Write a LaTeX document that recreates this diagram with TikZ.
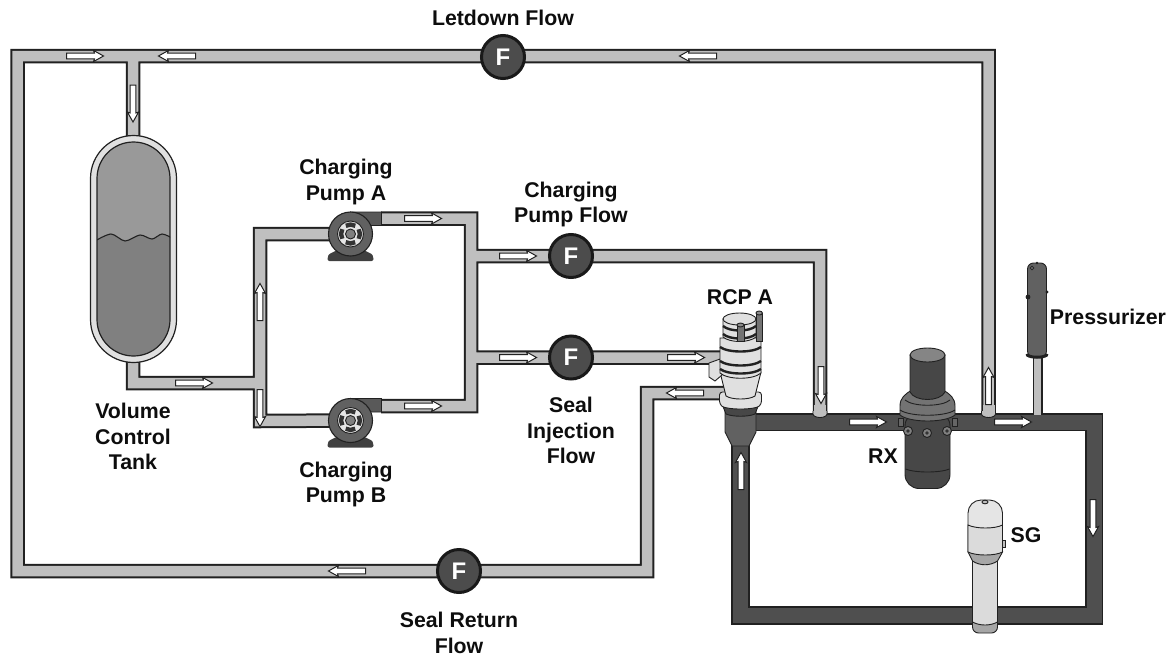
\documentclass[tikz,border=0pt]{standalone}
\usepackage{fontspec}
\setmainfont{Liberation Sans}
\usetikzlibrary{positioning,calc}
\definecolor{PipeGray}{gray}{0.75}
\definecolor{LoopGray}{gray}{0.31}
\definecolor{LineDark}{gray}{0.13}
\tikzset{
  meter/.style={circle,draw=black!90,fill=black!70,line width=3pt,minimum size=43pt,inner sep=0pt,text=white,font=\fontsize{24pt}{24pt}\bfseries},
  lab/.style={align=center,font=\fontsize{21.3pt}{25.5pt}\bfseries,inner sep=0pt,text=black!95},
  flow/.style={draw=LineDark,fill=white,line width=1pt,line join=miter},
  pipecase/.style={draw=LineDark,line width=14.5pt,line join=miter},
  pipefill/.style={draw=PipeGray,line width=10.5pt,line join=miter},
  loopcase/.style={draw=LineDark,line width=18.5pt,line join=miter},
  loopfill/.style={draw=LoopGray,line width=15pt,line join=miter},
  part/.style={draw=LineDark,line width=.9pt},
}
\begin{document}
\begin{tikzpicture}[x=1pt,y=-1pt]
\useasboundingbox (0,0) rectangle (1170,656);
% junctions
\coordinate (topL) at (17.5,56);
\coordinate (topR) at (988.5,56);
\coordinate (botL) at (17.5,571);
\coordinate (retA) at (647,571);
\coordinate (retB) at (647,393);
\coordinate (retC) at (725,393);
\coordinate (vctTee) at (133,56);
\coordinate (vctOut) at (133,383);
\coordinate (suctTee) at (260,383);
\coordinate (suctA) at (260,234);
\coordinate (suctB) at (260,421);
\coordinate (pumpA) at (350.5,234);
\coordinate (pumpB) at (350.5,420.5);
\coordinate (discA) at (471,218.5);
\coordinate (discB) at (471,406);
\coordinate (outA) at (381,218.5);
\coordinate (outB) at (381,406);
\coordinate (chgTee) at (471,256);
\coordinate (sealTee) at (471,357.5);
\coordinate (chgCor) at (820,256);
\coordinate (chgEnd) at (820,415);
\coordinate (sealEnd) at (725,357.5);
\coordinate (letEnd) at (988.5,415);
\coordinate (loopTL) at (740.5,422);
\coordinate (loopTR) at (1094,422);
\coordinate (loopBR) at (1094,615.5);
\coordinate (loopBL) at (740.5,615.5);
\coordinate (surgeTop) at (1037.5,355);
\coordinate (surgeEnd) at (1037.5,415);
\def\lightpipes{(letEnd)--(topR)--(topL)--(botL)--(retA)--(retB)--(retC) (vctTee)--(vctOut)--(suctTee) (pumpB)--(suctB)--(suctA)--(pumpA) (outA)--(discA)--(discB)--(outB) (chgTee)--(chgCor)--(chgEnd) (sealTee)--(sealEnd)}
% reactor coolant loop
\draw[loopcase] (loopTL)--(loopTR)--(loopBR)--(loopBL)--cycle;
\draw[loopfill] (loopTL)--(loopTR)--(loopBR)--(loopBL)--cycle;
% light pipes
\draw[pipecase] \lightpipes;
\draw[pipefill] \lightpipes;
\draw[part,fill=PipeGray] (813,411) -- (813,414) arc[start angle=180,end angle=360,x radius=7pt,y radius=3.5pt] -- (827,411);
\draw[draw=PipeGray,line width=12pt] (820,405)--(820,414);
\draw[part,fill=PipeGray] (981.5,411) -- (981.5,414) arc[start angle=180,end angle=360,x radius=7pt,y radius=3.5pt] -- (995.5,411);
\draw[draw=PipeGray,line width=12pt] (988.5,405)--(988.5,414);
% surge line
\draw[draw=LineDark,line width=10pt] (surgeTop)--(surgeEnd);
\draw[draw=PipeGray,line width=7pt] (surgeTop)--(surgeEnd);
% volume control tank
\draw[part,line width=1.2pt,fill=black!12,rounded corners=43pt] (90.5,135.5) rectangle (176.5,362.5);
\begin{scope}
\clip[rounded corners=36.5pt] (97,142) rectangle (170,356);
\fill[black!40] (97,142) rectangle (170,356);
\fill[black!50] plot[smooth] coordinates {(95,241) (111,234) (125,241) (140,235) (152,239) (162,234) (172,238)} -- (172,358) -- (95,358) -- cycle;
\draw[draw=LineDark,line width=1.1pt] plot[smooth] coordinates {(95,241) (111,234) (125,241) (140,235) (152,239) (162,234) (172,238)};
\end{scope}
\draw[part,line width=1.2pt,rounded corners=36.5pt] (97,142) rectangle (170,356);
% charging pumps
\foreach \p in {pumpA,pumpB} {
\begin{scope}[shift={(\p)}]
\fill[black!75,rounded corners=2pt] (-23,27) -- (-23,23) .. controls (-21,19) and (-14,17) .. (-10,14) -- (10,14) .. controls (14,17) and (21,19) .. (23,23) -- (23,27) -- cycle;
\draw[part,fill=black!65] (0,-22) -- (31,-22) -- (31,-8.5) -- (10,-8.5) -- cycle;
\draw[part,line width=1.1pt,fill=black!62] (0,0) circle[radius=22pt];
\draw[part,fill=black!10] (0,0) circle[radius=13pt];
\foreach \a in {0,90,180,270}
\draw[draw=black!80,line width=4.4pt,rotate=\a] (8.2,4.8) arc[start angle=-30,end angle=30,radius=9.5pt];
\draw[part,fill=black!50] (0,0) circle[radius=5pt];
\end{scope}
}
% reactor vessel
\draw[part,fill=black!72,rounded corners=14pt] (905,412) -- (905,488.5) -- (950,488.5) -- (950,412) -- cycle;
\draw[part] (905.5,469) .. controls (915,473) and (940,473) .. (949.5,469);
\draw[part,fill=black!55] (900,406) .. controls (900,398) and (905,394) .. (912,390) -- (943,390) .. controls (950,394) and (955,398) .. (955,406) -- (955,415) .. controls (945,423) and (910,423) .. (900,415) -- cycle;
\draw[part] (900,410) .. controls (910,417) and (945,417) .. (955,410);
\draw[part] (905,400) .. controls (913,407) and (942,407) .. (950,400);
\draw[part,fill=black!72] (910,355) -- (910,392) .. controls (915,402) and (940,402) .. (945,392) -- (945,355) -- cycle;
\draw[part,fill=black!48] (927.5,355) ellipse[x radius=17.5pt,y radius=7pt];
\foreach \nx/\ny in {908/431,927/433,947/431} {
\draw[part,fill=black!50] (\nx,\ny) circle[radius=4.5pt];
\fill[black!80] (\nx,\ny) circle[radius=1.8pt];
}
\draw[part,fill=black!60] (898,418) rectangle (903,426);
\draw[part,fill=black!60] (952,418) rectangle (957,426);
% steam generator
\draw[part,fill=black!35,rounded corners=6pt] (972.5,600) -- (972.5,633) -- (997.5,633) -- (997.5,600) -- cycle;
\draw[part,fill=black!14] (972.5,558) -- (972.5,622) .. controls (980,626) and (990,626) .. (997.5,622) -- (997.5,558) -- cycle;
\draw[part,fill=black!35] (968,552) -- (972.5,561) .. controls (980,566) and (990,566) .. (997.5,561) -- (1002.5,552) -- cycle;
\draw[part,fill=black!10,rounded corners=13pt] (968,552) -- (968,500) -- (1002.5,500) -- (1002.5,552);
\draw[part,fill=black!14] (968,525) -- (968,552) .. controls (976,556) and (995,556) .. (1002.5,552) -- (1002.5,525) .. controls (995,529) and (976,529) .. (968,525) -- cycle;
\draw[part,fill=black!25] (985,502) ellipse[x radius=3pt,y radius=1.8pt];
\draw[part,fill=black!25] (1002.5,540) rectangle (1005,547);
% pressurizer
\draw[part,fill=black!62,rounded corners=6pt] (1027.5,357) -- (1027.5,263) -- (1046.5,263) -- (1046.5,357) -- cycle;
\draw[draw=LineDark,line width=3pt,line cap=round] (1027,355) .. controls (1031,358) and (1043,358) .. (1047,355);
\fill[LineDark] (1028,297) circle[radius=2.4pt];
\fill[LineDark] (1047,292) circle[radius=1.6pt];
\fill[LineDark] (1037,263) circle[radius=1.4pt];
\draw[part,fill=black!40] (1032,268) circle[radius=1.8pt];
% coolant pump
\draw[part,fill=black!62] (725,408) -- (725,432) -- (732,446) -- (749,446) -- (756,432) -- (756,408) -- cycle;
\draw[part,fill=black!72] (722,404) -- (726,414) .. controls (733,417) and (748,417) .. (755,414) -- (759,404) -- cycle;
\draw[part,fill=black!12,rounded corners=3pt] (719.5,392) -- (719.5,404) .. controls (726,410) and (755,410) .. (761.5,404) -- (761.5,392) -- cycle;
\draw[part,fill=black!12] (720,372) -- (726,396) .. controls (732,400) and (749,400) .. (755,396) -- (761,372) -- cycle;
\draw[part,fill=black!12] (709,363) -- (720,359) -- (722,375) -- (715,381) -- (709,377) -- cycle;
\draw[part,fill=black!12] (720,338) -- (720,373) .. controls (728,380) and (753,380) .. (761,373) -- (761,338) -- cycle;
\foreach \by in {347,361,369} {
\draw[draw=LineDark,line width=2.4pt] (720,\by) .. controls (728,\by+6) and (753,\by+6) .. (761,\by);
}
\draw[part,fill=black!12] (723,319) -- (723,337) .. controls (730,343) and (749,343) .. (756,337) -- (756,319) -- cycle;
\foreach \by in {326,334} {
\draw[draw=LineDark,line width=2.4pt] (723,\by) .. controls (730,\by+6) and (749,\by+6) .. (756,\by);
}
\draw[part,fill=black!12] (739.5,319) ellipse[x radius=16.5pt,y radius=6pt];
\draw[part,fill=black!55] (737,325) rectangle (744,341);
\draw[part,fill=black!45] (740.5,325) ellipse[x radius=3.5pt,y radius=2pt];
\draw[part,fill=black!55] (756,313) rectangle (762.5,341);
\draw[part,fill=black!45] (759.2,313) ellipse[x radius=3.2pt,y radius=2pt];
% flow meters
\node[meter] (letdown) at (503,57) {F};
\node[meter] (chgflow) at (571,256) {F};
\node[meter] (sealinj) at (571,357.5) {F};
\node[meter] (sealret) at (459,571) {F};
% flow arrows
\foreach \ax/\ay/\ang in {85/56/0,177/56/180,698/56/180,133/103.5/-90,194/383/0,260/302/90,260/408/-90,423/218.5/0,423/406/0,518/256/0,518/357.5/0,686/357.5/0,685/393/180,821/385/-90,868/422/0,741/471/90,988.5/386/90,1013/422/0,1093/518/-90,347/571/180} {
\draw[flow,shift={(\ax,\ay)},rotate=\ang] (-18.5,-2.8) -- (9.5,-2.8) -- (8.5,-5.6) -- (18.5,0) -- (8.5,5.6) -- (9.5,2.8) -- (-18.5,2.8) -- cycle;
}
% labels
\node[lab] (letdownlab) at (503,18) {Letdown Flow};
\node[lab] (pumpAlab) at (346,182) {Charging\\Pump A};
\node[lab] (chgflowlab) at (571,204.5) {Charging\\Pump Flow};
\node[lab] (rcplab) at (740,297) {RCP A};
\node[lab] (przlab) at (1108,317) {Pressurizer};
\node[lab] (sealinjlab) at (571,430.5) {Seal\\Injection\\Flow};
\node[lab] (vctlab) at (133,436.5) {Volume\\Control\\Tank};
\node[lab] (pumpBlab) at (346,484.5) {Charging\\Pump B};
\node[lab] (rxlab) at (883,456) {RX};
\node[lab] (sglab) at (1026,535) {SG};
\node[lab] (sealretlab) at (459,633) {Seal Return\\Flow};
\end{tikzpicture}
\end{document}
